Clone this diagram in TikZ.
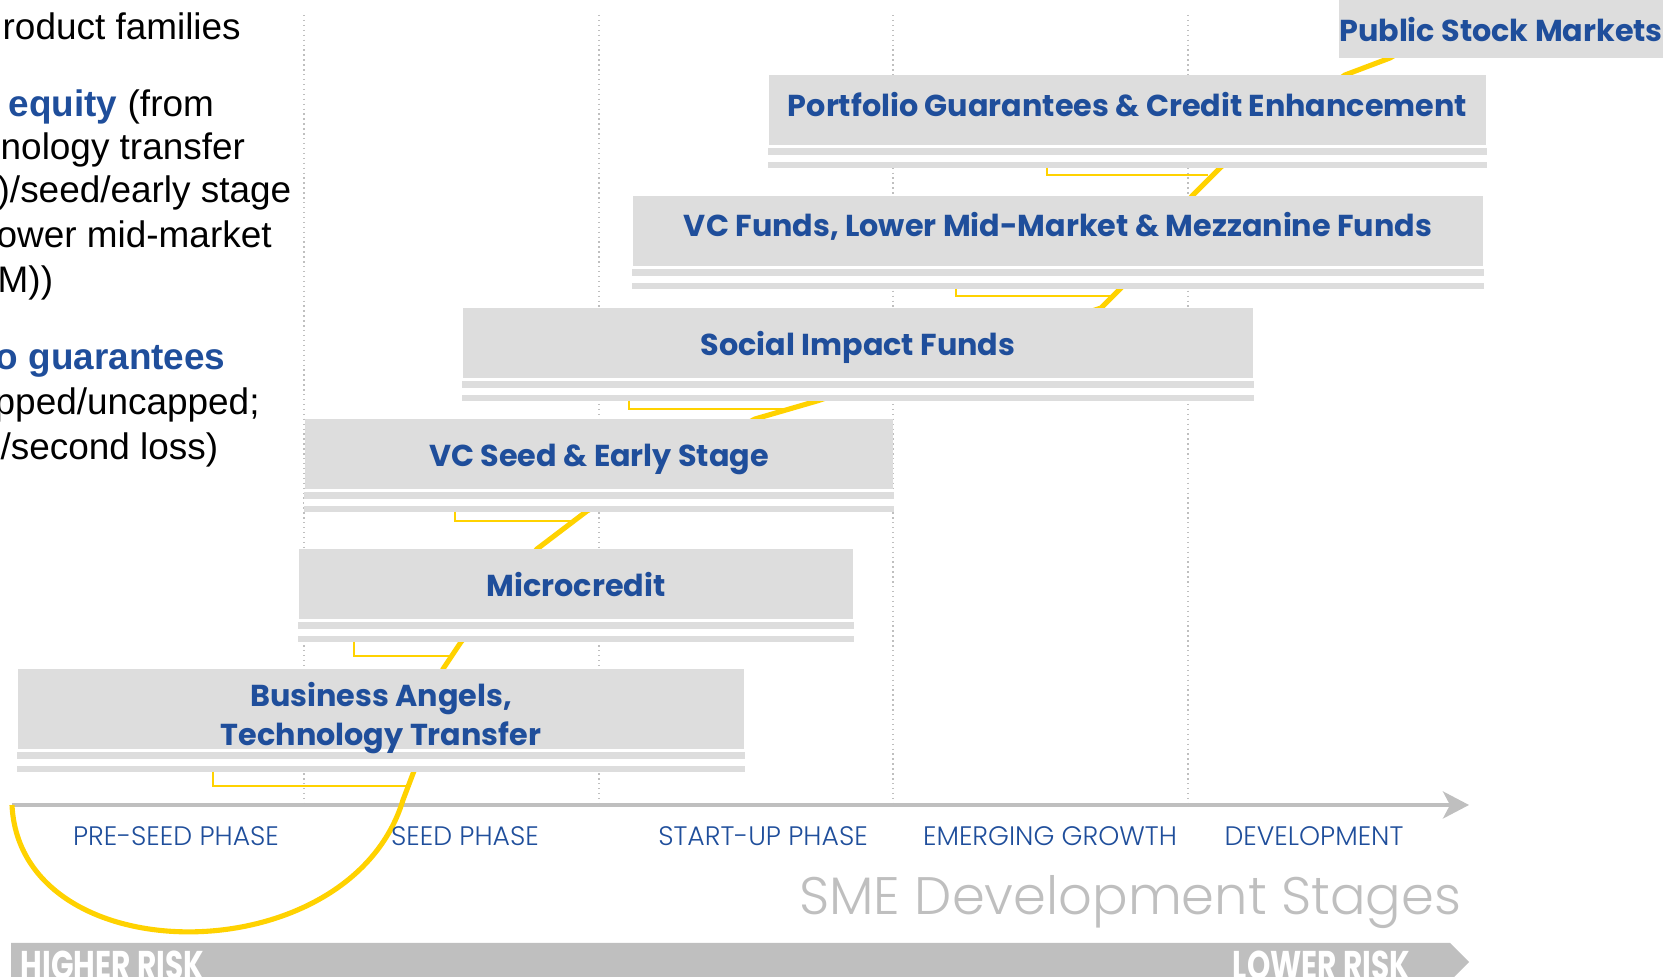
\documentclass[tikz,border=0pt]{standalone}
\usepackage{fontspec}
\setmainfont{Liberation Sans}
\newfontfamily\gothic{Poppins}
\newfontfamily\gothiclight{Poppins Light}
\usetikzlibrary{arrows.meta,positioning}

\definecolor{ink}{HTML}{1F4E9B}
\definecolor{boxgray}{HTML}{DDDDDD}
\definecolor{rulegray}{HTML}{BFBFBF}
\definecolor{curvegold}{HTML}{FFD200}

\begin{document}
\begin{tikzpicture}[x=0.01cm,y=-0.01cm,
                    fund/.style={fill=boxgray,inner sep=0pt,text=ink,anchor=base,
                                 font=\gothic\bfseries\fontsize{8.6}{10}\selectfont},
                    fundtext/.style={inner sep=0pt,text=ink,anchor=base,
                                 font=\gothic\bfseries\fontsize{8.6}{10}\selectfont},
                    note/.style={anchor=base west,inner sep=0pt,font=\fontsize{10.5}{12}\selectfont},
                    phase/.style={anchor=base,inner sep=0pt,text=ink,font=\gothiclight\fontsize{7.6}{9}\selectfont},
                    risk/.style={inner sep=0pt,text=white,font=\gothic\bfseries\fontsize{11.4}{13}\selectfont},
                    stageline/.style={black!25,line width=0.4pt,densely dotted},
                    track/.style={curvegold,line width=1.45pt},
                    tick/.style={curvegold,line width=0.7pt}]
\useasboundingbox (0,0) rectangle (1672,977);

% product families (cut at the left edge)
\node[note] (t1) at (2,40) {roduct families};
\node[note] (t2) at (8,117) {{\bfseries\color{ink}equity} (from};
\node[note] (t3) at (0,160) {nology transfer};
\node[note] (t4) at (-3,203) {)/seed/early stage};
\node[note] (t5) at (-4,248) {ower mid-market};
\node[note] (t6) at (-3,293) {M))};
\node[note] (t7) at (-5,370) {\bfseries\color{ink}o guarantees};
\node[note] (t8) at (-6,415) {pped/uncapped;};
\node[note] (t9) at (0,460) {/second loss)};

% stage separators and axis
\foreach \x in {304,599,893,1188}
  \draw[stageline] (\x,15) -- (\x,805);
\draw[rulegray,line width=1.1pt,-{Stealth[length=0.26cm,width=0.27cm,inset=0.07cm]}] (12,805) -- (1469,805);

% risk curve, hidden behind the boxes
\draw[track] (12,805) .. controls (20,975) and (350,975) .. (403,800) -- (414,771)
  -- (443,669) -- (461,642) -- (537,549) -- (587,511) -- (755,419) -- (817,401)
  -- (1101,308) -- (1121,288) -- (1192,196) -- (1221,167) -- (1345,75) -- (1390,58) -- (1420,40);
\coordinate (ka) at (1208,175);
\coordinate (kb) at (1110,296);
\coordinate (kc) at (785,409);
\coordinate (kd) at (574,521);
\coordinate (ke) at (451,656);
\coordinate (kf) at (408,786);

% funding boxes
\node[fund,minimum width=3.10cm,text height=0.42cm,text depth=0.16cm] (psm) at (1501,42) {Public Stock Markets};
\node[fund,minimum width=7.17cm,text height=0.42cm,text depth=0.28cm] (pge) at (1127.5,117) {Portfolio Guarantees \& Credit Enhancement};
\node[fund,minimum width=8.50cm,text height=0.41cm,text depth=0.29cm] (vcf) at (1058,237) {VC Funds, Lower Mid-Market \& Mezzanine Funds};
\node[fund,minimum width=7.90cm,text height=0.48cm,text depth=0.22cm] (sif) at (858,356) {Social Impact Funds};
\node[fund,minimum width=5.88cm,text height=0.48cm,text depth=0.22cm] (vcs) at (599,467) {VC Seed \& Early Stage};
\node[fund,minimum width=5.54cm,text height=0.48cm,text depth=0.22cm] (mic) at (576,597) {Microcredit};
\node[fund,minimum width=7.26cm,text height=0.80cm,text depth=0cm] (ban) at (381,749) {};

\foreach \b in {pge,vcf,sif,vcs,mic,ban} {
  \fill[white] ([yshift=0.01cm]\b.south west) rectangle ([yshift=-0.22cm]\b.south east);
  \fill[boxgray] ([yshift=-0.02cm]\b.south west) rectangle ([yshift=-0.09cm]\b.south east);
  \fill[boxgray] ([yshift=-0.16cm]\b.south west) rectangle ([yshift=-0.22cm]\b.south east);
}
\node[fundtext] (ban-a) at (381,707) {Business Angels,};
\node[fundtext] (ban-b) at (381,746) {Technology Transfer};

% callouts onto the curve
\draw[tick] ([xshift=2.79cm,yshift=-0.22cm]pge.south west) |- (ka);
\draw[tick] ([xshift=3.24cm,yshift=-0.22cm]vcf.south west) |- (kb);
\draw[tick] ([xshift=1.67cm,yshift=-0.22cm]sif.south west) |- (kc);
\draw[tick] ([xshift=1.51cm,yshift=-0.22cm]vcs.south west) |- (kd);
\draw[tick] ([xshift=0.56cm,yshift=-0.22cm]mic.south west) |- (ke);
\draw[tick] ([xshift=1.96cm,yshift=-0.22cm]ban.south west) |- (kf);

% phases
\node[phase] (pre) at (176,846) {PRE-SEED PHASE};
\node[phase] (seed) at (465,846) {SEED PHASE};
\node[phase] (start) at (763,846) {START-UP PHASE};
\node[phase] (grow) at (1050,846) {EMERGING GROWTH};
\node[phase] (dev) at (1314,846) {DEVELOPMENT};
\node[anchor=base east,inner sep=0pt,text=rulegray,font=\gothiclight\fontsize{15}{18}\selectfont] (sme) at (1462,915) {SME Development Stages};

% risk bar
\fill[rulegray] (11,943) -- (1450,943) -- (1469,962) -- (1450,981) -- (11,981) -- cycle;
\node[risk,anchor=base west] (hi) at (20,980) {\scalebox{0.74}[1]{HIGHER RISK}};
\node[risk,anchor=base east] (lo) at (1411,980) {\scalebox{0.74}[1]{LOWER RISK}};

\end{tikzpicture}
\end{document}
